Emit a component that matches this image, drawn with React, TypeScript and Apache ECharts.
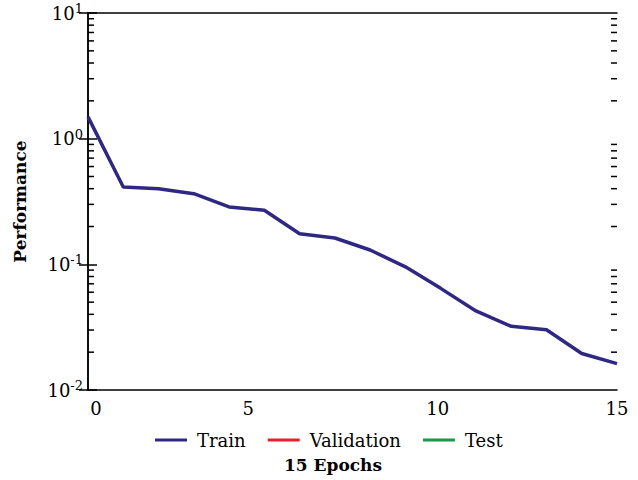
import React, { useEffect, useRef } from "react";
import * as echarts from "echarts";

const epochs = [0, 1, 2, 3, 4, 5, 6, 7, 8, 9, 10, 11, 12, 13, 14, 15];
const trainPerf = [1.49, 0.412, 0.4, 0.365, 0.286, 0.269, 0.175, 0.162, 0.13, 0.0955, 0.0644, 0.0426, 0.0321, 0.0302, 0.0195, 0.0162];
const seriesNames = ["Train", "Validation", "Test"];
const seriesColors = ["#2e2883", "#e8202a", "#1a9a48"];
const minorTickValues = [
  0.02, 0.03, 0.04, 0.05, 0.06, 0.07, 0.08, 0.09,
  0.2, 0.3, 0.4, 0.5, 0.6, 0.7, 0.8, 0.9,
  2, 3, 4, 5, 6, 7, 8, 9,
];
const xTicks = { min: 0, max: 15, interval: 5 };
const yRange = { min: 0.01, max: 10 };

const FONT = "'DejaVu Serif', serif";

export default function App() {
  const ref = useRef<HTMLDivElement>(null);
  useEffect(() => {
    if (!ref.current) return;
    const chart = echarts.init(ref.current, null, { renderer: "svg" });
    const supLabel = (v: number) => {
      const e = Math.round(Math.log10(v));
      return `{b|10}{s|${e}}`;
    };
    const xLabelStyle = { fontFamily: FONT, fontSize: 18, color: "#000" };
    const xLabel = (v: number) => {
      if (v === 0) return `{l|${v}}`;
      if (v === 5) return `{r|${v}}`;
      if (v === 10) return `{q|${v}}`;
      return `{n|${v}}`;
    };
    const axisLineStyle = { color: "#000", width: 1.5 };
    const yAxisBase = {
      type: "log" as const,
      logBase: 10,
      min: yRange.min,
      max: yRange.max,
      splitLine: { show: false },
      axisLine: { show: true, lineStyle: axisLineStyle },
      axisTick: { show: true, inside: true, length: 9, lineStyle: axisLineStyle },
    };
    chart.setOption({
      animation: false,
      backgroundColor: "#fff",
      textStyle: { fontFamily: FONT },
      grid: { left: 88, right: 21, top: 13, bottom: 90 },
      title: {
        text: "15 Epochs",
        left: 328,
        top: 451,
        textAlign: "center",
        textStyle: { fontFamily: FONT, fontSize: 17, fontWeight: "bold", color: "#000" },
      },
      legend: {
        data: seriesNames,
        left: 150,
        top: 426,
        icon: "rect",
        itemWidth: 32,
        itemHeight: 3,
        itemGap: 22,
        textStyle: { fontFamily: FONT, fontSize: 18, color: "#000", padding: [0, 0, 0, 5] },
      },
      xAxis: [
        {
          type: "value",
          min: xTicks.min,
          max: xTicks.max,
          interval: xTicks.interval,
          splitLine: { show: false },
          axisLine: { show: true, onZero: false, lineStyle: axisLineStyle },
          axisTick: { show: false },
          axisLabel: {
            margin: 9,
            fontFamily: FONT,
            formatter: xLabel,
            rich: {
              l: { ...xLabelStyle, padding: [0, 0, 0, 16] },
              r: { ...xLabelStyle, padding: [0, 32, 0, 0] },
              q: { ...xLabelStyle, padding: [0, 6, 0, 0] },
              n: { ...xLabelStyle },
            },
          },
        },
        {
          type: "value",
          position: "top",
          min: xTicks.min,
          max: xTicks.max,
          interval: xTicks.interval,
          splitLine: { show: false },
          axisLine: { show: true, onZero: false, lineStyle: axisLineStyle },
          axisTick: { show: false },
          axisLabel: { show: false },
        },
      ],
      yAxis: [
        {
          ...yAxisBase,
          position: "left",
          name: "Performance",
          nameLocation: "middle",
          nameGap: 60,
          nameRotate: 90,
          nameTextStyle: { fontFamily: FONT, fontSize: 17, fontWeight: "bold", color: "#000" },
          axisLabel: {
            margin: 5,
            fontFamily: FONT,
            formatter: supLabel,
            rich: {
              b: { fontFamily: FONT, fontSize: 18, color: "#000" },
              s: { fontFamily: FONT, fontSize: 13, color: "#000", padding: [0, 0, 9, 0] },
            },
          },
        },
        {
          ...yAxisBase,
          position: "right",
          axisLabel: { show: false },
        },
      ],
      series: [
        {
          name: "Train",
          type: "line",
          data: epochs.map((e, i) => [e, trainPerf[i]]),
          showSymbol: false,
          symbol: "none",
          lineStyle: { color: seriesColors[0], width: 3.5 },
          itemStyle: { color: seriesColors[0] },
          z: 5,
        },
        {
          name: "Validation",
          type: "line",
          data: [],
          lineStyle: { color: seriesColors[1], width: 3.5 },
          itemStyle: { color: seriesColors[1] },
        },
        {
          name: "Test",
          type: "line",
          data: [],
          lineStyle: { color: seriesColors[2], width: 3.5 },
          itemStyle: { color: seriesColors[2] },
        },
        {
          name: "minorTicks",
          type: "custom",
          silent: true,
          data: minorTickValues.map((v) => [xTicks.min, v]),
          renderItem: (params: any, api: any) => {
            const v = api.value(1);
            const pl = api.coord([xTicks.min, v]);
            const pr = api.coord([xTicks.max, v]);
            const style = { stroke: "#000", lineWidth: 1.5 };
            return {
              type: "group",
              children: [
                { type: "line", shape: { x1: pl[0], y1: pl[1], x2: pl[0] + 6, y2: pl[1] }, style },
                { type: "line", shape: { x1: pr[0] - 6, y1: pr[1], x2: pr[0], y2: pr[1] }, style },
              ],
            };
          },
        },
      ],
    });
    return () => chart.dispose();
  }, []);
  return (
    <div
      ref={ref}
      style={{ position: "absolute", left: 0, top: 0, width: 638, height: 480, background: "#fff" }}
    />
  );
}
